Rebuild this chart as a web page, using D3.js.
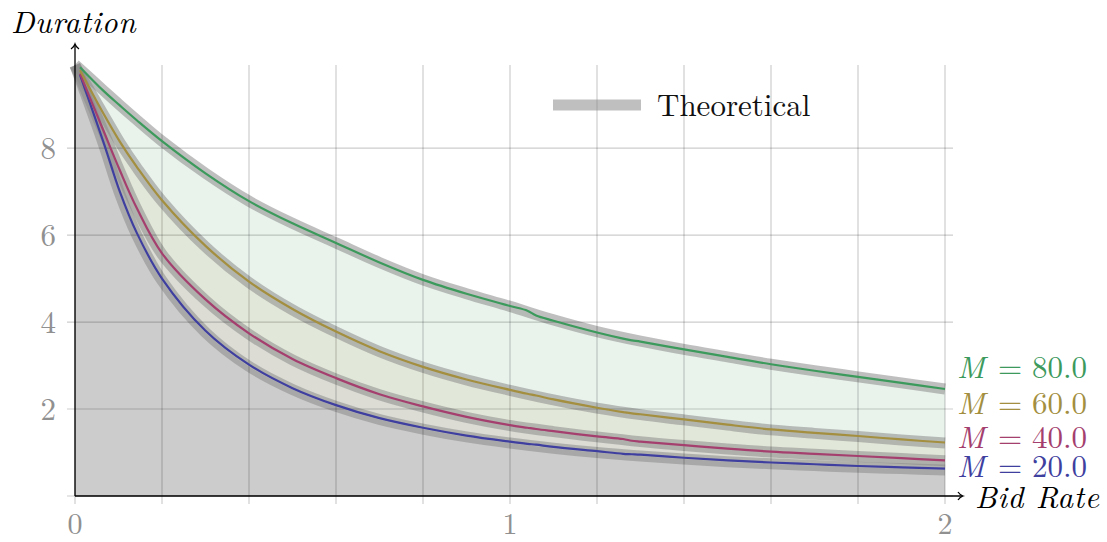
<!DOCTYPE html>
<html>
<head>
<meta charset="utf-8">
<script src="https://cdn.jsdelivr.net/npm/d3@7"></script>
<style>
  html, body { margin: 0; padding: 0; background: #fff; }
  svg { display: block; }
</style>
</head>
<body>
<svg id="chart" width="1107" height="542"></svg>
<script>
// Simulated duration against bid rate, one series per M
const rates  = [0.0115, 0.065, 0.103, 0.142, 0.2, 0.3, 0.4, 0.5, 0.6, 0.7, 0.8, 0.9, 1.0, 1.04, 1.06, 1.1, 1.2, 1.26, 1.28, 1.3, 1.4, 1.5, 1.6, 1.7, 1.8, 1.9, 2.0];
const durM20 = [9.68, 8.15, 7.00, 6.05, 5.00, 3.80, 3.02, 2.48, 2.09, 1.79, 1.57, 1.39, 1.25, 1.20, 1.18, 1.13, 1.03, 0.97, 0.96, 0.95, 0.88, 0.82, 0.77, 0.73, 0.69, 0.66, 0.63];
const durM40 = [9.71, 8.41, 7.49, 6.62, 5.58, 4.52, 3.74, 3.15, 2.71, 2.34, 2.06, 1.82, 1.63, 1.57, 1.54, 1.49, 1.37, 1.31, 1.27, 1.25, 1.17, 1.09, 1.02, 0.97, 0.92, 0.87, 0.82];
const durM60 = [9.79, 8.80, 8.15, 7.57, 6.80, 5.75, 4.93, 4.30, 3.78, 3.33, 2.97, 2.68, 2.44, 2.35, 2.31, 2.22, 2.03, 1.93, 1.90, 1.88, 1.76, 1.64, 1.53, 1.45, 1.38, 1.30, 1.23];
const durM80 = [9.86, 9.32, 8.98, 8.64, 8.16, 7.42, 6.78, 6.27, 5.82, 5.37, 4.97, 4.65, 4.37, 4.26, 4.15, 4.03, 3.76, 3.62, 3.58, 3.55, 3.37, 3.20, 3.03, 2.88, 2.74, 2.60, 2.46];

// Theoretical durations
const theoryRates = [0, 0.065, 0.103, 0.142, 0.2, 0.3, 0.4, 0.5, 0.6, 0.7, 0.8, 0.9, 1.0, 1.1, 1.2, 1.3, 1.4, 1.5, 1.6, 1.7, 1.8, 1.9, 2.0];
const theoryM20 = [9.90, 8.10, 6.95, 6.00, 4.95, 3.76, 2.98, 2.45, 2.06, 1.76, 1.54, 1.36, 1.22, 1.10, 1.00, 0.92, 0.85, 0.79, 0.74, 0.70, 0.66, 0.63, 0.60];
const theoryM40 = [9.90, 8.39, 7.47, 6.60, 5.56, 4.50, 3.72, 3.13, 2.69, 2.33, 2.05, 1.81, 1.62, 1.48, 1.36, 1.25, 1.16, 1.08, 1.01, 0.96, 0.91, 0.86, 0.81];
const theoryM60 = [9.90, 8.78, 8.13, 7.55, 6.78, 5.73, 4.91, 4.28, 3.77, 3.32, 2.96, 2.67, 2.43, 2.21, 2.02, 1.87, 1.75, 1.63, 1.52, 1.44, 1.37, 1.29, 1.22];
const theoryM80 = [9.92, 9.33, 8.99, 8.65, 8.16, 7.42, 6.78, 6.27, 5.82, 5.37, 4.97, 4.65, 4.36, 4.05, 3.78, 3.56, 3.37, 3.20, 3.03, 2.88, 2.74, 2.60, 2.46];

const seriesM      = ["20.0", "40.0", "60.0", "80.0"];
const seriesColors = ["#3f3fa0", "#a43f6e", "#a38f3f", "#3d9a5d"];
const bandFills    = ["#cccccc", "#dcdcd5", "#e2e8d9", "#e9f3ec"];
const xTicks = [0, 1, 2];
const yTicks = [2, 4, 6, 8];
const xGrid  = [0, 0.2, 0.4, 0.6, 0.8, 1.0, 1.2, 1.4, 1.6, 1.8, 2.0];
const yGrid  = [0, 2, 4, 6, 8];

const measured = [durM20, durM40, durM60, durM80];
const theory   = [theoryM20, theoryM40, theoryM60, theoryM80];

const FONT = '"Latin Modern Roman", "Liberation Serif", serif';
const curve = d3.curveCatmullRom.alpha(0.5);

const svg = d3.select("#chart");
const x = d3.scaleLinear().domain([0, 2]).range([75, 945]);
const y = d3.scaleLinear().domain([0, 9.91]).range([496, 65]);

// Shaded regions between successive theoretical curves
theory.forEach((vals, i) => {
  const lower = i === 0 ? null : theory[i - 1];
  const area = d3.area()
    .x((d, j) => x(theoryRates[j]))
    .y0((d, j) => lower ? y(lower[j]) : y(0))
    .y1((d, j) => y(vals[j]))
    .curve(curve);
  svg.append("path").attr("d", area(vals)).attr("fill", bandFills[i]);
});

// Theoretical curves: wide translucent grey bands
theory.forEach(vals => {
  const line = d3.line()
    .x((d, j) => x(theoryRates[j]))
    .y(d => y(d))
    .curve(curve);
  svg.append("path").attr("d", line(vals))
    .attr("fill", "none")
    .attr("stroke", "#8b8b8b")
    .attr("stroke-opacity", 0.55)
    .attr("stroke-width", 11);
});

// Grid, with its tick stubs outside the axes
const grid = svg.append("g").attr("stroke", "#000").attr("stroke-opacity", 0.2).attr("stroke-width", 1.2);
xGrid.forEach(v => grid.append("line")
  .attr("x1", x(v)).attr("x2", x(v)).attr("y1", y(9.91)).attr("y2", y(0) + 8));
yGrid.forEach(v => grid.append("line")
  .attr("x1", x(0) - 8).attr("x2", x(2) + 8).attr("y1", y(v)).attr("y2", y(v)));

// Measured series
measured.forEach((vals, i) => {
  const line = d3.line()
    .x((d, j) => x(rates[j]))
    .y(d => y(d))
    .curve(curve);
  svg.append("path").attr("d", line(vals))
    .attr("fill", "none")
    .attr("stroke", seriesColors[i])
    .attr("stroke-width", 2.2);
});

// Axes with arrow tips
const axes = svg.append("g").attr("stroke", "#000").attr("stroke-width", 1.3).attr("fill", "none");
axes.append("line").attr("x1", x(0)).attr("x2", 962).attr("y1", y(0)).attr("y2", y(0));
axes.append("path").attr("d", `M958,${y(0) - 4} Q960,${y(0) - 1} 963,${y(0)} Q960,${y(0) + 1} 958,${y(0) + 4}`);
axes.append("line").attr("x1", x(0)).attr("x2", x(0)).attr("y1", y(0)).attr("y2", 45);
axes.append("path").attr("d", `M${x(0) - 4},49 Q${x(0) - 1},47 ${x(0)},44 Q${x(0) + 1},47 ${x(0) + 4},49`);

// Tick labels
svg.append("g").selectAll("text").data(xTicks).join("text")
  .attr("x", d => x(d)).attr("y", 534)
  .attr("text-anchor", "middle")
  .attr("font-size", 30).attr("fill", "#909090")
  .style("font-family", FONT)
  .text(d => d);
svg.append("g").selectAll("text").data(yTicks).join("text")
  .attr("x", 56).attr("y", d => y(d) + 11)
  .attr("text-anchor", "end")
  .attr("font-size", 31).attr("fill", "#909090")
  .style("font-family", FONT)
  .text(d => d);

// Axis titles
svg.append("text").attr("x", 11).attr("y", 33)
  .attr("font-size", 31).attr("font-style", "italic").attr("letter-spacing", 0.6)
  .style("font-family", FONT)
  .text("Duration");
svg.append("text").attr("x", 975).attr("y", 508)
  .attr("font-size", 31).attr("font-style", "italic").attr("letter-spacing", 0.6)
  .style("font-family", FONT)
  .text("Bid Rate");

// Series labels at the right end of each curve
const labelBaselines = [477, 448, 414, 378];
seriesM.forEach((m, i) => {
  const t = svg.append("text").attr("y", labelBaselines[i])
    .attr("font-size", 31).attr("fill", seriesColors[i])
    .style("font-family", FONT);
  t.append("tspan").attr("x", 957).attr("font-style", "italic").text("M");
  t.append("tspan").attr("x", 998).text("=");
  t.append("tspan").attr("x", 1032).text(m);
});

// Legend
svg.append("line").attr("x1", 553).attr("x2", 641).attr("y1", 105).attr("y2", 105)
  .attr("stroke", "#8b8b8b").attr("stroke-opacity", 0.55).attr("stroke-width", 11);
svg.append("text").attr("x", 657).attr("y", 116)
  .attr("font-size", 31).attr("fill", "#111")
  .style("font-family", FONT)
  .text("Theoretical");
</script>
</body>
</html>
